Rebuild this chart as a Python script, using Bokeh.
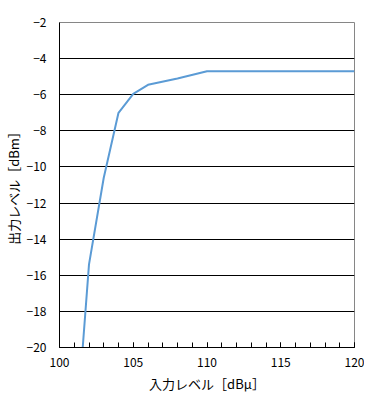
from bokeh.plotting import figure
from bokeh.models import Range1d, SingleIntervalTicker, FixedTicker, Title
from bokeh.embed import file_html
from bokeh.resources import INLINE

# data
input_level = [101.5, 102, 103, 104, 105, 106, 108, 110, 120]
output_level = [-20.8, -15.4, -10.6, -7.0, -5.95, -5.45, -5.1, -4.7, -4.7]

x_ticks = [100, 105, 110, 115, 120]
x_tick_labels = ["100", "105", "110", "115", "120"]
y_ticks = [-20, -18, -16, -14, -12, -10, -8, -6, -4, -2]
y_tick_labels = ["\u221220", "\u221218", "\u221216", "\u221214", "\u221212",
                 "\u221210", "\u22128", "\u22126", "\u22124", "\u22122"]

x_label = "入力レベル［dBμ］"
y_label = "出力レベル［dBm］"

FONT = "Noto Sans CJK JP"

p = figure(width=364, height=395, output_backend="svg", toolbar_location=None,
           x_range=Range1d(100, 120), y_range=Range1d(-20, -2),
           min_border_left=10, min_border_right=10, min_border_top=22,
           min_border_bottom=10)

p.background_fill_color = "white"
p.border_fill_color = "white"
p.outline_line_color = "#868686"
p.outline_line_width = 1

p.line(input_level, output_level, line_color="#5B9BD5", line_width=2)

# x axis
p.xaxis.ticker = SingleIntervalTicker(interval=5, num_minor_ticks=5)
p.xaxis.major_label_overrides = dict(zip(x_ticks, x_tick_labels))
p.xaxis.major_tick_in = 5
p.xaxis.major_tick_out = 0
p.xaxis.minor_tick_in = 5
p.xaxis.minor_tick_out = 0
p.xaxis.axis_line_color = "black"
p.xaxis.major_tick_line_color = "black"
p.xaxis.minor_tick_line_color = "black"
p.xaxis.major_label_standoff = 10
p.xaxis.major_label_text_font = FONT
p.xaxis.major_label_text_font_size = "12px"
p.xaxis.major_label_text_color = "black"

# y axis
p.yaxis.ticker = FixedTicker(ticks=y_ticks)
p.yaxis.major_label_overrides = dict(zip(y_ticks, y_tick_labels))
p.yaxis.major_tick_in = 0
p.yaxis.major_tick_out = 0
p.yaxis.minor_tick_in = 0
p.yaxis.minor_tick_out = 0
p.yaxis.axis_line_color = "black"
p.yaxis.major_label_standoff = 13
p.yaxis.major_label_text_font = FONT
p.yaxis.major_label_text_font_size = "12px"
p.yaxis.major_label_text_color = "black"

# axis titles placed as in the reference
p.add_layout(Title(text=x_label, text_font=FONT, text_font_size="13px",
                   text_font_style="normal", text_color="black",
                   align="center", offset=-4, standoff=5), "below")
p.add_layout(Title(text=y_label, text_font=FONT, text_font_size="13px",
                   text_font_style="normal", text_color="black",
                   align="center", offset=27, standoff=2), "left")

# grid
p.xgrid.grid_line_color = None
p.ygrid.ticker = FixedTicker(ticks=y_ticks)
p.ygrid.grid_line_color = "black"
p.ygrid.grid_line_alpha = 1.0
p.ygrid.grid_line_width = 1

open("out.html", "w").write(file_html(p, INLINE))
